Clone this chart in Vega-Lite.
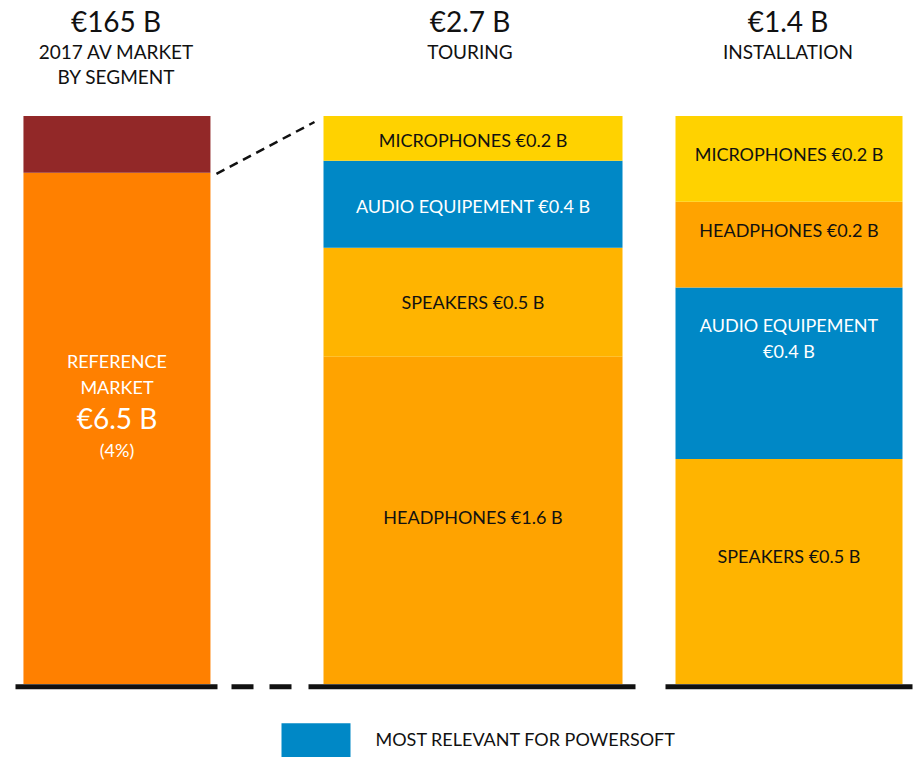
{
  "$schema": "https://vega.github.io/schema/vega-lite/v6.json",
  "background": "white",
  "padding": {"left": 12.5, "top": 10, "right": 5, "bottom": 0},
  "datasets": {
    "seg": [
      {"panel": "AV", "segment": "REFERENCE MARKET", "share": 0.9, "value": 6.5, "label": "REFERENCE\nMARKET", "amount": "€6.5 B", "note": "(4%)"},
      {"panel": "AV", "segment": "OTHER SEGMENTS", "share": 0.1, "value": 158.5, "label": "", "amount": "", "note": ""},
      {"panel": "TOURING", "segment": "HEADPHONES", "share": 0.576, "value": 1.6, "label": "HEADPHONES €1.6 B"},
      {"panel": "TOURING", "segment": "SPEAKERS", "share": 0.192, "value": 0.5, "label": "SPEAKERS €0.5 B"},
      {"panel": "TOURING", "segment": "AUDIO EQUIPEMENT", "share": 0.153, "value": 0.4, "label": "AUDIO EQUIPEMENT €0.4 B"},
      {"panel": "TOURING", "segment": "MICROPHONES", "share": 0.079, "value": 0.2, "label": "MICROPHONES €0.2 B"},
      {"panel": "INSTALLATION", "segment": "SPEAKERS", "share": 0.396, "value": 0.5, "label": "SPEAKERS €0.5 B"},
      {"panel": "INSTALLATION", "segment": "AUDIO EQUIPEMENT", "share": 0.302, "value": 0.4, "label": "AUDIO EQUIPEMENT\n€0.4 B"},
      {"panel": "INSTALLATION", "segment": "HEADPHONES", "share": 0.151, "value": 0.2, "label": "HEADPHONES €0.2 B"},
      {"panel": "INSTALLATION", "segment": "MICROPHONES", "share": 0.151, "value": 0.2, "label": "MICROPHONES €0.2 B"}
    ]
  },
  "config": {
    "view": {"stroke": null},
    "font": "Lato",
    "title": {"font": "Lato", "fontSize": 28, "fontWeight": "normal", "color": "#111", "subtitleFont": "Lato", "subtitleFontSize": 19, "subtitleColor": "#111", "subtitleLineHeight": 25, "subtitlePadding": 6, "offset": 28, "anchor": "middle"},
    "text": {"font": "Lato", "fontSize": 18, "color": "#111", "baseline": "middle", "lineHeight": 26, "lineBreak": "\n"}
  },
  "resolve": {"scale": {"x": "independent", "y": "independent", "color": "shared"}},
  "bounds": "flush",
  "spacing": 0,
  "hconcat": [
    {
      "width": 293,
      "height": 568,
      "title": {"text": "€165 B", "subtitle": ["2017 AV MARKET", "BY SEGMENT"], "dx": -46},
      "data": {"name": "seg"},
      "transform": [
        {"filter": {"field": "panel", "equal": "AV"}},
        {"stack": "share", "groupby": ["panel"], "offset": "normalize", "as": ["lo", "hi"]}
      ],
      "layer": [
        {
          "mark": {"type": "bar"},
          "encoding": {
            "x": {"field": "panel", "type": "nominal", "axis": null, "scale": {"paddingInner": 0, "paddingOuter": 0.2834, "align": 0.075}},
            "y": {"field": "lo", "type": "quantitative", "axis": null, "scale": {"domain": [0, 1]}},
            "y2": {"field": "hi"},
            "color": {"field": "segment", "type": "nominal",
              "scale": {"domain": ["OTHER SEGMENTS", "REFERENCE MARKET", "MICROPHONES", "AUDIO EQUIPEMENT", "SPEAKERS", "HEADPHONES"], "range": ["#922828", "#FF8000", "#FFD200", "#0088C6", "#FFB400", "#FFA300"]},
              "legend": {"orient": "none", "legendX": 266, "legendY": 590, "direction": "horizontal", "values": ["AUDIO EQUIPEMENT"], "labelExpr": "'MOST RELEVANT FOR POWERSOFT'", "title": null, "symbolType": "M-1,-0.5H1V0.5H-1Z", "symbolSize": 4761, "symbolStrokeWidth": 0, "symbolOpacity": 1, "labelFont": "Lato", "labelFontSize": 18, "labelColor": "#111", "labelOffset": 25, "padding": 0, "labelLimit": 400}}
          }
        },
        {
          "transform": [{"filter": {"field": "segment", "equal": "REFERENCE MARKET"}}],
          "mark": {"type": "rule", "strokeWidth": 5, "color": "#111", "strokeDash": [0, 17, 22, 16, 22, 14, 203, 100], "yOffset": 2.8},
          "encoding": {"y": {"datum": 0, "type": "quantitative"}}
        },
        {
          "transform": [{"filter": {"field": "segment", "equal": "REFERENCE MARKET"}}],
          "mark": {"type": "rule", "strokeWidth": 2.5, "color": "#111", "strokeDash": [9, 6], "xOffset": 6, "x2Offset": 6, "yOffset": 1, "y2Offset": 6},
          "encoding": {
            "x": {"field": "panel", "type": "nominal", "bandPosition": 1},
            "x2": {"value": "width"},
            "y": {"field": "hi", "type": "quantitative"},
            "y2": {"datum": 1}
          }
        },
        {
          "transform": [
            {"filter": {"field": "segment", "equal": "REFERENCE MARKET"}},
            {"fold": ["lo", "hi"], "as": ["k", "v"]},
            {"aggregate": [{"op": "mean", "field": "v", "as": "mid"}], "groupby": ["panel", "label", "amount", "note"]}
          ],
          "encoding": {
            "x": {"field": "panel", "type": "nominal"},
            "y": {"field": "mid", "type": "quantitative"}
          },
          "layer": [
            {"mark": {"type": "text", "color": "white", "fontSize": 18, "dy": -65}, "encoding": {"text": {"field": "label"}}},
            {"mark": {"type": "text", "color": "white", "fontSize": 28, "dy": -7}, "encoding": {"text": {"field": "amount"}}},
            {"mark": {"type": "text", "color": "white", "fontSize": 18, "dy": 24}, "encoding": {"text": {"field": "note"}}}
          ]
        }
      ]
    },
    {
      "spacing": 30,
      "bounds": "flush",
      "resolve": {"scale": {"x": "independent", "y": "independent", "color": "shared"}},
      "hconcat": [
        {
          "width": 327,
          "height": 568,
          "title": {"text": "€2.7 B", "subtitle": ["TOURING", " "], "dx": -2},
          "data": {"name": "seg"},
          "transform": [
            {"filter": {"field": "panel", "equal": "TOURING"}},
            {"stack": "share", "groupby": ["panel"], "offset": "normalize", "as": ["lo", "hi"]}
          ],
          "layer": [
            {
              "mark": {"type": "bar"},
              "encoding": {
                "x": {"field": "panel", "type": "nominal", "axis": null, "scale": {"paddingInner": 0, "paddingOuter": 0.0468, "align": 0.536}},
                "y": {"field": "lo", "type": "quantitative", "axis": null, "scale": {"domain": [0, 1]}},
                "y2": {"field": "hi"},
                "color": {"field": "segment", "type": "nominal",
                  "scale": {"domain": ["OTHER SEGMENTS", "REFERENCE MARKET", "MICROPHONES", "AUDIO EQUIPEMENT", "SPEAKERS", "HEADPHONES"], "range": ["#922828", "#FF8000", "#FFD200", "#0088C6", "#FFB400", "#FFA300"]},
                  "legend": {"orient": "none", "legendX": 266, "legendY": 590, "direction": "horizontal", "values": ["AUDIO EQUIPEMENT"], "labelExpr": "'MOST RELEVANT FOR POWERSOFT'", "title": null, "symbolType": "M-1,-0.5H1V0.5H-1Z", "symbolSize": 4761, "symbolStrokeWidth": 0, "symbolOpacity": 1, "labelFont": "Lato", "labelFontSize": 18, "labelColor": "#111", "labelOffset": 25, "padding": 0, "labelLimit": 400}}
              }
            },
            {
              "transform": [{"filter": {"field": "segment", "equal": "HEADPHONES"}}],
              "mark": {"type": "rule", "strokeWidth": 5, "color": "#111", "yOffset": 2.8},
              "encoding": {"y": {"datum": 0, "type": "quantitative"}}
            },
            {
              "transform": [
                {"fold": ["lo", "hi"], "as": ["k", "v"]},
                {"aggregate": [{"op": "mean", "field": "v", "as": "mid"}], "groupby": ["panel", "segment", "label"]}
              ],
              "encoding": {
                "x": {"field": "panel", "type": "nominal"},
                "y": {"field": "mid", "type": "quantitative"},
                "text": {"field": "label"},
                "color": {"condition": {"test": "datum.segment === 'AUDIO EQUIPEMENT'", "value": "white"}, "value": "#111"}
              },
              "layer": [
                {"transform": [{"filter": "datum.segment === 'MICROPHONES' || datum.segment === 'AUDIO EQUIPEMENT'"}], "mark": {"type": "text", "dy": 3.5}},
                {"transform": [{"filter": {"field": "segment", "equal": "SPEAKERS"}}], "mark": {"type": "text", "dy": 2}},
                {"transform": [{"filter": {"field": "segment", "equal": "HEADPHONES"}}], "mark": {"type": "text", "dy": -1}}
              ]
            }
          ]
        },
        {
          "width": 247,
          "height": 568,
          "title": {"text": "€1.4 B", "subtitle": ["INSTALLATION", " "], "dx": -1},
          "data": {"name": "seg"},
          "transform": [
            {"filter": {"field": "panel", "equal": "INSTALLATION"}},
            {"stack": "share", "groupby": ["panel"], "offset": "normalize", "as": ["lo", "hi"]}
          ],
          "layer": [
            {
              "mark": {"type": "bar"},
              "encoding": {
                "x": {"field": "panel", "type": "nominal", "axis": null, "scale": {"paddingInner": 0, "paddingOuter": 0.04405, "align": 0.5}},
                "y": {"field": "lo", "type": "quantitative", "axis": null, "scale": {"domain": [0, 1]}},
                "y2": {"field": "hi"},
                "color": {"field": "segment", "type": "nominal",
                  "scale": {"domain": ["OTHER SEGMENTS", "REFERENCE MARKET", "MICROPHONES", "AUDIO EQUIPEMENT", "SPEAKERS", "HEADPHONES"], "range": ["#922828", "#FF8000", "#FFD200", "#0088C6", "#FFB400", "#FFA300"]},
                  "legend": {"orient": "none", "legendX": 266, "legendY": 590, "direction": "horizontal", "values": ["AUDIO EQUIPEMENT"], "labelExpr": "'MOST RELEVANT FOR POWERSOFT'", "title": null, "symbolType": "M-1,-0.5H1V0.5H-1Z", "symbolSize": 4761, "symbolStrokeWidth": 0, "symbolOpacity": 1, "labelFont": "Lato", "labelFontSize": 18, "labelColor": "#111", "labelOffset": 25, "padding": 0, "labelLimit": 400}}
              }
            },
            {
              "transform": [{"filter": {"field": "segment", "equal": "SPEAKERS"}}],
              "mark": {"type": "rule", "strokeWidth": 5, "color": "#111", "yOffset": 2.8},
              "encoding": {"y": {"datum": 0, "type": "quantitative"}}
            },
            {
              "transform": [
                {"fold": ["lo", "hi"], "as": ["k", "v"]},
                {"aggregate": [{"op": "mean", "field": "v", "as": "mid"}], "groupby": ["panel", "segment", "label"]}
              ],
              "encoding": {
                "x": {"field": "panel", "type": "nominal"},
                "y": {"field": "mid", "type": "quantitative"},
                "text": {"field": "label"},
                "color": {"condition": {"test": "datum.segment === 'AUDIO EQUIPEMENT'", "value": "white"}, "value": "#111"}
              },
              "layer": [
                {"transform": [{"filter": {"field": "segment", "equal": "SPEAKERS"}}], "mark": {"type": "text", "dy": -14}},
                {"transform": [{"filter": {"field": "segment", "equal": "HEADPHONES"}}], "mark": {"type": "text", "dy": -13}},
                {"transform": [{"filter": {"field": "segment", "equal": "MICROPHONES"}}], "mark": {"type": "text", "dy": -3}},
                {"transform": [{"filter": {"field": "segment", "equal": "AUDIO EQUIPEMENT"}}], "mark": {"type": "text", "dy": -46}}
              ]
            }
          ]
        }
      ]
    }
  ]
}
